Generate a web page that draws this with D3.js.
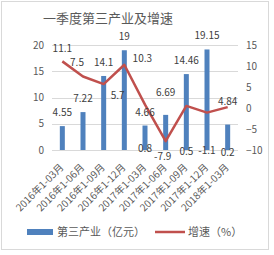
<!DOCTYPE html>
<meta charset="utf-8">
<style>
    body {
        margin: 0;
        background-color: #fff;
    }

    text {
        font-family: "Noto Sans CJK SC", sans-serif;
    }

    .axis text {
        font-size: 10px;
        fill: #595959;
    }

    .grid line {
        stroke: #d9d9d9;
        stroke-width: 1px;
        shape-rendering: crispEdges;
    }

    .bar {
        fill: #4f81bd;
    }

    .line {
        fill: none;
        stroke: #c0504d;
        stroke-width: 2.5px;
    }

    .label {
        font-size: 10px;
        fill: #404040;
    }
</style>

<body>
    <svg width="274" height="255"></svg>
</body>
<script src="https://d3js.org/d3.v7.min.js"></script>
<script>
    var categories = ["2016年1-03月", "2016年1-06月", "2016年1-09月", "2016年1-12月",
        "2017年1-03月", "2017年1-06月", "2017年1-09月", "2017年1-12月", "2018年1-03月"];
    var industry = [4.55, 7.22, 14.1, 19, 4.66, 6.69, 14.46, 19.15, 4.84];
    var growth = [11.1, 7.5, 5.7, 10.3, 0.8, -7.9, 0.5, -1.1, 0.2];
    var leftTicks = [0, 5, 10, 15, 20];
    var rightTicks = [-10, -5, 0, 5, 10, 15];

    // where the data labels sit (Excel had them dragged around)
    var barLabelDy = [-14, -14, -13, -14, -13, -22, -14, -14, -23];
    var lineLabelPos = [[0, -13], [-6, -14], [14, 11], [18, -6], ["base", -2],
        [-3, 15], ["base", 1], ["base", 0], ["base", 2]];

    var svg = d3.select("svg");

    var plot = { left: 52, right: 238, top: 45, bottom: 150 };

    var x = d3.scaleBand().domain(categories).range([plot.left, plot.right]);
    var yL = d3.scaleLinear().domain([0, 20]).range([plot.bottom, plot.top]);
    var yR = d3.scaleLinear().domain([-10, 15]).range([plot.bottom, plot.top]);
    var cx = function(i) { return x(categories[i]) + x.bandwidth() / 2; };

    // chart frame
    svg.append("rect")
        .attr("x", 1.5).attr("y", 1.5)
        .attr("width", 267).attr("height", 248)
        .attr("fill", "none")
        .attr("stroke", "#d9d9d9");

    svg.append("text")
        .attr("x", 43)
        .attr("y", 23)
        .style("font-size", "13px")
        .attr("fill", "#595959")
        .text("一季度第三产业及增速");

    // gridlines
    svg.append("g")
        .attr("class", "grid")
        .selectAll("line")
        .data(leftTicks)
        .enter().append("line")
        .attr("x1", plot.left).attr("x2", plot.right)
        .attr("y1", function(d) { return Math.round(yL(d)) + 0.5; })
        .attr("y2", function(d) { return Math.round(yL(d)) + 0.5; });

    svg.append("g")
        .attr("class", "axis")
        .attr("transform", "translate(" + (plot.left - 2) + ",0)")
        .call(d3.axisLeft(yL).tickValues(leftTicks).tickSize(0).tickPadding(6))
        .call(function(g) { g.select(".domain").remove(); });

    svg.append("g")
        .attr("class", "axis")
        .attr("transform", "translate(" + (plot.right + 2) + ",0)")
        .call(d3.axisRight(yR).tickValues(rightTicks).tickSize(0).tickPadding(6))
        .call(function(g) { g.select(".domain").remove(); });

    // x labels
    svg.append("g")
        .attr("class", "axis")
        .selectAll("text")
        .data(categories)
        .enter().append("text")
        .attr("text-anchor", "end")
        .attr("transform", function(d, i) {
            return "translate(" + (cx(i) + 2) + "," + (plot.bottom + 18) + ") rotate(-45)";
        })
        .text(function(d) { return d; });

    // bars
    svg.selectAll(".bar")
        .data(industry)
        .enter().append("rect")
        .attr("class", "bar")
        .attr("x", function(d, i) { return cx(i) - 2.5; })
        .attr("width", 5)
        .attr("y", function(d) { return yL(d); })
        .attr("height", function(d) { return yL(0) - yL(d); });

    var line = d3.line()
        .x(function(d, i) { return cx(i); })
        .y(function(d) { return yR(d); });

    svg.append("path")
        .datum(growth)
        .attr("class", "line")
        .attr("stroke-linejoin", "round")
        .attr("d", line);

    svg.selectAll(".bar-label")
        .data(industry)
        .enter().append("text")
        .attr("class", "label bar-label")
        .attr("text-anchor", "middle")
        .attr("dy", "0.35em")
        .attr("x", function(d, i) { return cx(i); })
        .attr("y", function(d, i) { return yL(d) + barLabelDy[i]; })
        .text(function(d) { return d; });

    svg.selectAll(".line-label")
        .data(growth)
        .enter().append("text")
        .attr("class", "label line-label")
        .attr("text-anchor", "middle")
        .attr("dy", "0.35em")
        .attr("x", function(d, i) {
            var p = lineLabelPos[i];
            return cx(i) + (p[0] === "base" ? 0 : p[0]);
        })
        .attr("y", function(d, i) {
            var p = lineLabelPos[i];
            return p[0] === "base" ? plot.bottom + p[1] : yR(d) + p[1];
        })
        .text(function(d) { return d; });

    // legend
    var legend = svg.append("g").attr("transform", "translate(0,232)");
    legend.append("rect")
        .attr("x", 27).attr("y", -3)
        .attr("width", 26).attr("height", 6)
        .attr("fill", "#4f81bd");
    legend.append("text")
        .attr("x", 57).attr("dy", "0.35em")
        .style("font-size", "11px")
        .attr("fill", "#595959")
        .text("第三产业（亿元）");
    legend.append("line")
        .attr("x1", 155).attr("x2", 185)
        .attr("stroke", "#c0504d")
        .attr("stroke-width", 2.5);
    legend.append("text")
        .attr("x", 188).attr("dy", "0.35em")
        .style("font-size", "11px")
        .attr("fill", "#595959")
        .text("增速（%）");
</script>
